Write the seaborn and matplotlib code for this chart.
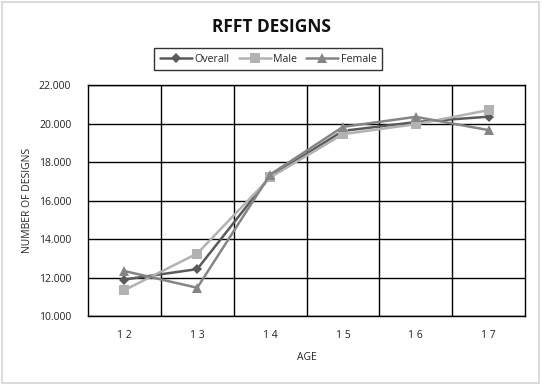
import numpy as np
import pandas as pd
import matplotlib
matplotlib.use("Agg")
import matplotlib.pyplot as plt
from matplotlib.ticker import FormatStrFormatter, FixedLocator
from matplotlib.patches import Rectangle
import seaborn as sns

# data
ages = ["12", "13", "14", "15", "16", "17"]
overall = [11.90, 12.44, 17.25, 19.62, 20.08, 20.36]
male = [11.35, 13.25, 17.20, 19.45, 19.97, 20.70]
female = [12.34, 11.47, 17.35, 19.83, 20.35, 19.66]

df = pd.DataFrame({
    "age": ages * 3,
    "value": overall + male + female,
    "group": ["Overall"] * 6 + ["Male"] * 6 + ["Female"] * 6,
})
df["x"] = np.tile(np.arange(len(ages)), 3)

sns.set_theme(style="white")
plt.rcParams["font.family"] = ["Open Sans", "DejaVu Sans"]

palette = {"Overall": "#5a5a5a", "Male": "#b2b2b2", "Female": "#858585"}
markers = {"Overall": "D", "Male": "s", "Female": "^"}
sizes = {"Overall": 5, "Male": 7, "Female": 7}

fig = plt.figure(figsize=(5.43, 3.85), dpi=100)
fig.patches.append(Rectangle((0.004, 0.005), 0.988, 0.99, transform=fig.transFigure,
                             fill=False, edgecolor="#d4d4d4", linewidth=1.2))
ax = fig.add_axes([0.162, 0.179, 0.805, 0.6])

for g in ["Overall", "Male", "Female"]:
    sub = df[df["group"] == g]
    sns.lineplot(data=sub, x="x", y="value", ax=ax, color=palette[g], marker=markers[g],
                 markersize=sizes[g], markeredgewidth=0, linewidth=1.8, label=g)

ax.set_xlim(-0.5, 5.5)
ax.set_ylim(10, 22)
ax.set_xticks(range(len(ages)))
ax.set_xticklabels([" ".join(a) for a in ages])
ax.xaxis.set_minor_locator(FixedLocator(np.arange(0.5, 5.0, 1.0)))
ax.set_yticks(np.arange(10, 23, 2))
ax.yaxis.set_major_formatter(FormatStrFormatter("%.3f"))
ax.grid(True, which="major", axis="y", color="black", linewidth=1.0)
ax.grid(True, which="minor", axis="x", color="black", linewidth=1.0)
ax.grid(False, which="major", axis="x")
for s in ax.spines.values():
    s.set_color("black")
    s.set_linewidth(1.0)
ax.tick_params(axis="both", which="both", length=0, labelsize=7.5, colors="#222222")
ax.tick_params(axis="x", pad=10)
ax.tick_params(axis="y", pad=12)
ax.set_xlabel("AGE", fontsize=7.5, labelpad=8)
ax.set_ylabel("NUMBER OF DESIGNS", fontsize=7.5, labelpad=4)

title = fig.text(0.5, 0.93, "RFFT DESIGNS", ha="center", va="center",
                 fontsize=12.5, fontweight="bold", color="#111111")

leg = ax.legend(loc="center", bbox_to_anchor=(0.412, 1.112), ncol=3, frameon=True,
                fontsize=7.7, handlelength=3.0, columnspacing=0.9, handletextpad=0.2,
                borderpad=0.5, fancybox=False)
leg.get_frame().set_edgecolor("black")
leg.get_frame().set_linewidth(1.0)

fig.savefig("out.png", dpi=100)
